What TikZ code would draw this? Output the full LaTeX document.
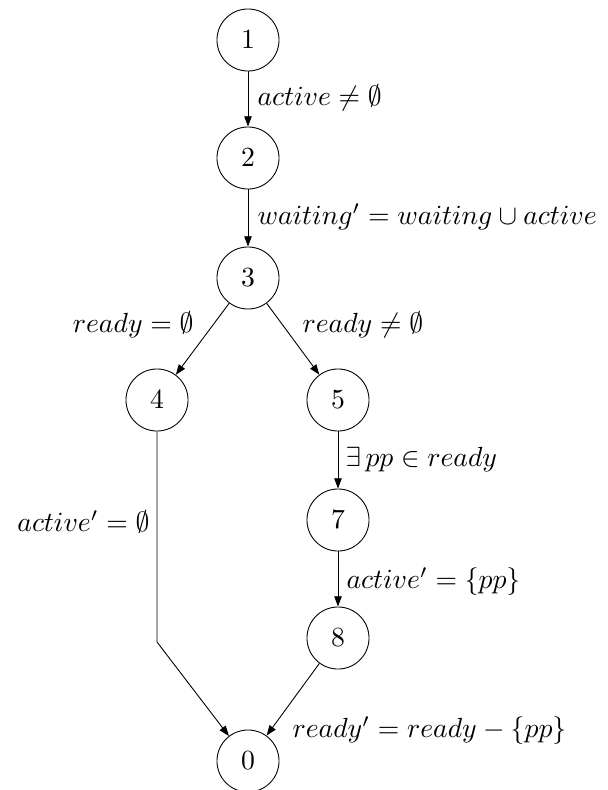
\documentclass[tikz,border=0pt]{standalone}
\usetikzlibrary{arrows.meta}
\begin{document}
\begin{tikzpicture}[x=0.361pt,y=-0.361pt,
  state/.style={circle,draw,line width=0.32pt,minimum size=22.4pt,inner sep=0pt},
  edge/.style={line width=0.32pt,-{Triangle[length=3.7pt,width=2.7pt]}},
  lbl/.style={inner sep=0pt}]
\useasboundingbox (0,0) rectangle (608,790);
% states
\node[state] (n1) at (248,40)  {$1$};
\node[state] (n2) at (248,158) {$2$};
\node[state] (n3) at (248,278) {$3$};
\node[state] (n4) at (157,400) {$4$};
\node[state] (n5) at (338,400) {$5$};
\node[state] (n7) at (338,520) {$7$};
\node[state] (n8) at (338,638) {$8$};
\node[state] (n0) at (248,761) {$0$};
\coordinate (bend) at (157,642);
% transitions
\draw[edge] (n1) -- (n2);
\draw[edge] (n2) -- (n3);
\draw[edge] (n3) -- (n4);
\draw[edge] (n3) -- (n5);
\draw[edge] (n5) -- (n7);
\draw[edge] (n7) -- (n8);
\draw[edge] (n8) -- (n0);
\draw[edge] (n4.south) -- (bend) -- (n0);
% guards and updates
\node[lbl,anchor=west] (l12) at (257,98)  {$active \neq \emptyset$};
\node[lbl,anchor=west] (l23) at (257,217) {$waiting' = waiting \cup active$};
\node[lbl,anchor=east] (l34) at (194,325) {$ready = \emptyset$};
\node[lbl,anchor=west] (l35) at (302,325) {$ready \neq \emptyset$};
\node[lbl,anchor=west] (l57) at (345,460) {$\exists\, pp \in ready$};
\node[lbl,anchor=east] (l40) at (150,522) {$active' = \emptyset$};
\node[lbl,anchor=west] (l78) at (346,582) {$active' = \{pp\}$};
\node[lbl,anchor=west] (l80) at (292,731) {$ready' = ready - \{pp\}$};
\end{tikzpicture}
\end{document}
